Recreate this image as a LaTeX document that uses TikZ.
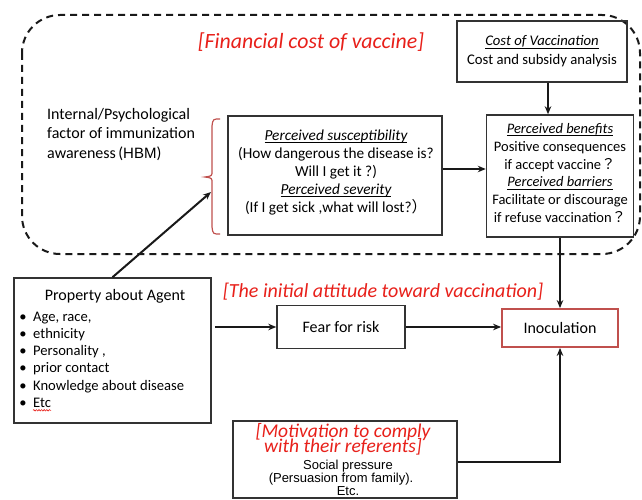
\documentclass[tikz,border=0pt]{standalone}
\usepackage{fontspec}
\setmainfont{Carlito}
\newfontfamily\cjk{Noto Sans CJK JP}
\newfontfamily\helv{Liberation Sans}
\usetikzlibrary{arrows.meta,decorations.pathmorphing}
\definecolor{redtxt}{HTML}{E8201A}
\definecolor{redline}{HTML}{C0504D}
\definecolor{boxline}{HTML}{333333}
\newcommand\fs[2]{\fontsize{#1}{#2}\selectfont\lineskiplimit=-50pt\lineskip=0pt}
\newsavebox\ttlbox
\newcommand\ttl[1]{\sbox\ttlbox{\itshape #1}\rlap{\rule[-2.4pt]{\wd\ttlbox}{0.7pt}}\usebox\ttlbox}
\begin{document}
\begin{tikzpicture}[x=1pt,y=-1pt,
  box/.style={draw=boxline, line width=1.5pt, inner sep=0pt, align=center},
  arr/.style={-{Stealth[length=8pt,width=6.5pt]}, line width=2pt, draw=black!90},
  redhead/.style={text=redtxt, font=\fs{20}{22}\itshape, inner sep=0pt},
  dashbox/.style={draw=black!90, line width=2pt, dash pattern=on 7pt off 5pt, rounded corners=38pt},
  brace/.style={draw=redline, line width=1.2pt},
  txt/.style={inner sep=0pt},
  small/.style={inner sep=0pt, font=\helv\fs{13}{11}}]
\useasboundingbox (0,0) rectangle (642,500);
\fill[white] (0,0) rectangle (642,500);

% dashed HBM region
\draw[dashbox] (22,15) rectangle (640,254);

\node[redhead, font=\fs{21.8}{22}\itshape] (fin) at (311,42) {[Financial cost of vaccine]};

\node[box, minimum width=170pt, minimum height=61pt, font=\fs{14.7}{19}] (cost) at (542,51.5)
  {\ttl{Cost of Vaccination}\\Cost and subsidy analysis};

\node[txt, anchor=west, align=left, font=\fs{16}{19.5}] (hbm) at (47,134.5)
  {Internal/Psychological\\factor of immunization\\awareness\hspace{2.5pt}({\helv\fs{15}{19.5}HBM})};

\node[box, minimum width=214pt, minimum height=119pt] (sus) at (335,175.5) {};
\node[txt, align=center, font=\fs{15.3}{18}] (sust) at (336,172.5)
  {\ttl{Perceived susceptibility}\\(How dangerous the disease is?\\Will I get it ?)\\\ttl{Perceived severity}\\(If I get sick ,what will lost?\cjk{）}};

\node[box, minimum width=147pt, minimum height=122pt] (ben) at (560,176) {};
\node[txt, align=center, font=\fs{14.5}{17.8}] (bent) at (560,173)
  {\ttl{Perceived benefits}\\Positive consequences\\if accept vaccine\cjk{？}\\\ttl{Perceived barriers}\\Facilitate or discourage\\if refuse vaccination\cjk{？}};

% brace
\coordinate (bracetop) at (220,119);
\coordinate (bracebot) at (220,234);
\coordinate (bracetip) at (205,177);
\draw[brace] (bracetop) .. controls (213,119) .. (212,126) -- (212,171) .. controls (212,176) .. (bracetip)
  .. controls (212,178) .. (212,183) -- (212,227) .. controls (213,234) .. (bracebot);
\coordinate (arrowend) at (211,192);

% property box
\node[box, minimum width=197pt, minimum height=145pt] (prop) at (112.5,350.5) {};
\node[txt, font=\fs{16}{19}] (propt) at (115,296) {Property about Agent};
\foreach \t [count=\i] in {{Age, race,},{ethnicity},{Personality ,},{prior contact},{Knowledge about disease},{Etc}}{
  \node[txt, anchor=base west, font=\fs{14.6}{17}] (pl\i) at (33,321.3+17.2*\i-17.2) {\t};
  \node[txt, anchor=base, font=\fs{14.6}{17}] (pb\i) at (23,321.3+17.2*\i-17.2) {•};
}
\draw[draw=redtxt, line width=0.6pt, decorate, decoration={snake, amplitude=0.7pt, segment length=2.6pt}]
  ([yshift=-3pt]pl6.base west) -- ([yshift=-3pt]pl6.base east);

\node[redhead] (att) at (383,292) {[The initial attitude toward vaccination]};

\node[box, minimum width=128pt, minimum height=43pt, font=\fs{16}{19}] (fear) at (341,327) {Fear for risk};
\node[box, draw=redline, line width=1.8pt, minimum width=116pt, minimum height=38pt, font=\fs{16}{19}] (inoc) at (560,328) {Inoculation};

% motivation box
\node[box, minimum width=224pt, minimum height=77pt] (mot) at (345,459.5) {};
\node[txt, align=center, text=redtxt, font=\fs{19.5}{15}\itshape] (mott) at (343,439.5) {[Motivation to comply\\with their referents]};
\node[small] (mots1) at (348,466.5) {Social pressure};
\node[small] (mots2) at (341,479) {(Persuasion from family).};
\node[small] (mots3) at (348,491) {Etc.};

% connectors
\draw[arr] ([xshift=6pt]cost.south) -- ([xshift=6pt]cost.south |- ben.north);
\draw[arr] ([yshift=6.5pt]sus.east) -- ([yshift=6.5pt]sus.east -| ben.west);
\draw[arr] (prop.north) -- (arrowend);
\draw[arr] ([xshift=3pt]fear.west -| prop.east) -- (fear.west);
\draw[arr] (fear.east) -- (fear.east -| inoc.west);
\draw[arr] (ben.south) -- (ben.south |- inoc.north);
\draw[arr] ([yshift=-2.5pt]mot.east) -| (inoc.south);
\end{tikzpicture}
\end{document}
